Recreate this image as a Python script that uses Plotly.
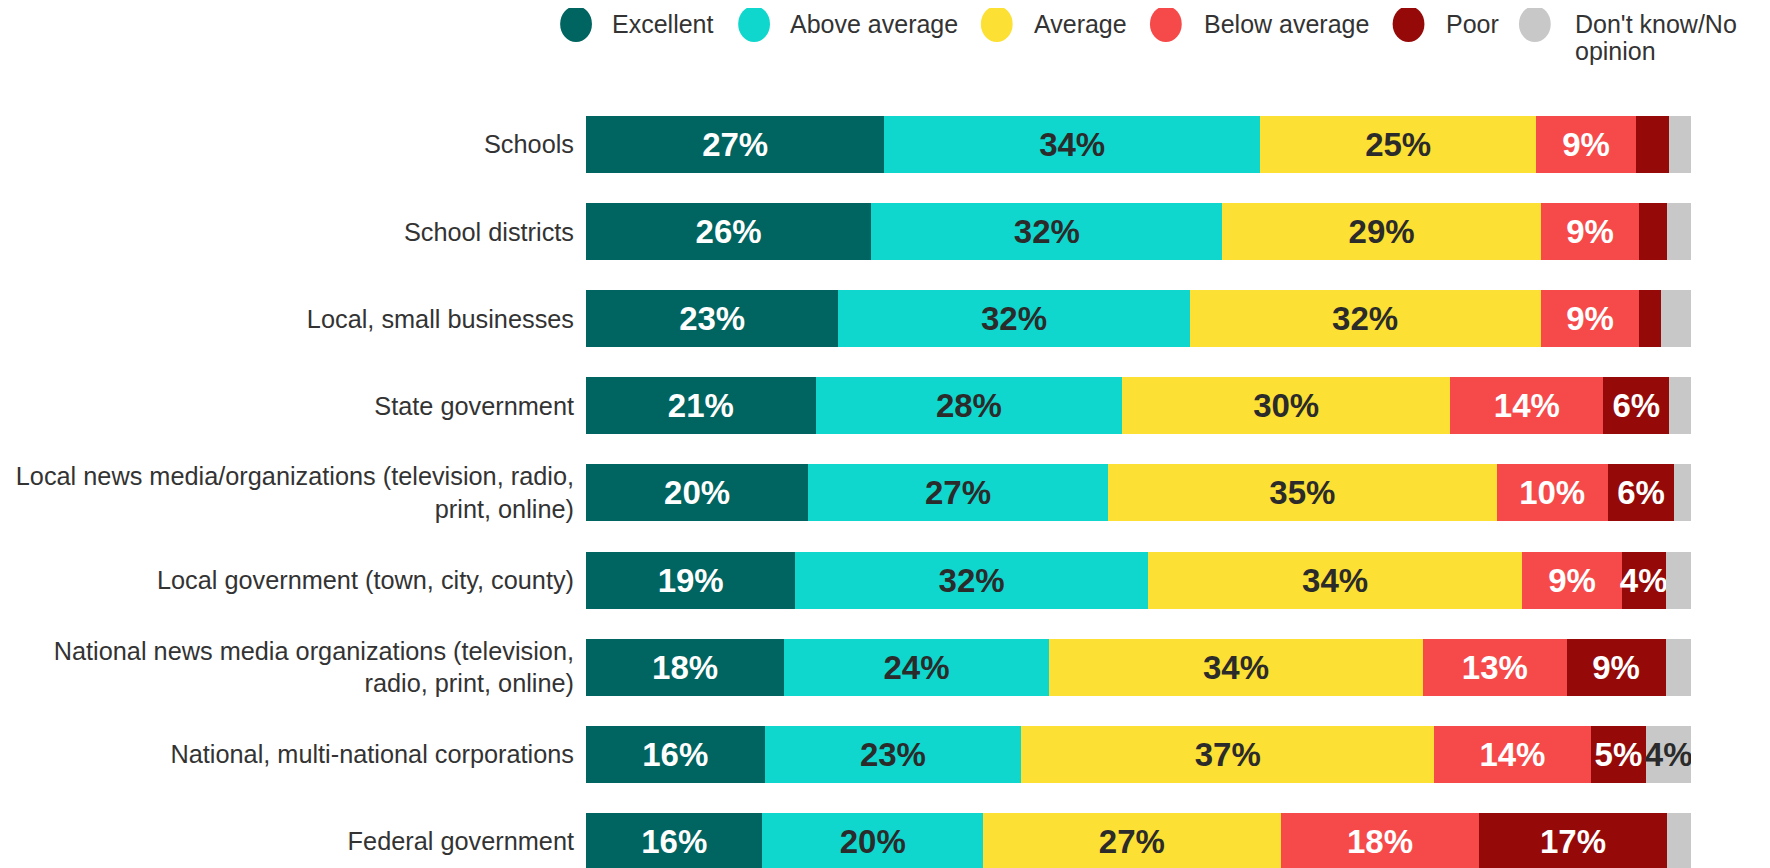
import plotly.graph_objects as go

categories = [
    "Schools",
    "School districts",
    "Local, small businesses",
    "State government",
    "Local news media/organizations (television, radio,<br>print, online)",
    "Local government (town, city, county)",
    "National news media organizations (television,<br>radio, print, online)",
    "National, multi-national corporations",
    "Federal government",
]

series_names = ["Excellent", "Above average", "Average", "Below average", "Poor", "Don't know/No opinion"]
excellent = [27, 26, 23, 21, 20, 19, 18, 16, 16]
above_average = [34, 32, 32, 28, 27, 32, 24, 23, 20]
average = [25, 29, 32, 30, 35, 34, 34, 37, 27]
below_average = [9, 9, 9, 14, 10, 9, 13, 14, 18]
poor = [3, 2.5, 2, 6, 6, 4, 9, 5, 17]
dont_know = [2, 2.2, 2.7, 2, 1.5, 2.3, 2.3, 4, 2.2]

series_values = [excellent, above_average, average, below_average, poor, dont_know]
colors = ["#006460", "#10d7cd", "#fce033", "#f64a4a", "#950a08", "#c8c8c8"]
text_colors = ["#ffffff", "#2b2b2b", "#2b2b2b", "#ffffff", "#ffffff", "#2b2b2b"]

# page body has an 8px margin, so figure coordinates are offset by 8px
W, H = 1770, 868
ML, MR, MT, MB = 572, 87, 93, 8
PW = W - ML - MR
PH = H - MT - MB

fig = go.Figure()
for name, vals, col, tcol in zip(series_names, series_values, colors, text_colors):
    labels = [f"{round(v)}%" if v >= 4 else "" for v in vals]
    fig.add_trace(go.Bar(
        y=categories, x=vals, name=name, orientation="h",
        marker=dict(color=col, line=dict(width=0)),
        text=labels, textposition="inside", insidetextanchor="middle",
        textangle=0, constraintext="none",
        textfont=dict(family="Liberation Sans, Arial, sans-serif", size=33, color=tcol, weight="bold"),
        showlegend=False,
    ))

n = len(categories)
slot_px = 87.1
lower = (n - 0.5) - PH / slot_px

fig.update_layout(
    width=W, height=H,
    margin=dict(l=ML, r=MR, t=MT, b=MB, pad=0),
    barmode="stack", barnorm="percent", bargap=0.345,
    plot_bgcolor="white", paper_bgcolor="white",
    font=dict(family="Liberation Sans, Arial, sans-serif", size=25, color="#333333"),
    xaxis=dict(visible=False, range=[0, 100], fixedrange=True),
    yaxis=dict(
        type="category", categoryorder="array", categoryarray=categories[::-1],
        range=[lower, n - 0.5], showgrid=False, zeroline=False, showline=False,
        ticks="", ticklabelstandoff=11,
        tickfont=dict(size=25.3, color="#333333"),
    ),
)

# Manual legend with large circular markers (figure pixel coordinates)
def px_to_paper_x(px):
    return (px - ML) / PW

def px_to_paper_y(py):
    return (H - MB - py) / PH

circle_cx = [562, 741, 985, 1155, 1399, 1526]
text_x = [596, 775, 1020, 1191, 1435, 1564]
cy = 16
legend_texts = ["Excellent", "Above average", "Average", "Below average", "Poor", "Don't know/No"]
for cx, tx, col, lab in zip(circle_cx, text_x, colors, legend_texts):
    fig.add_shape(
        type="circle", xref="paper", yref="paper",
        x0=px_to_paper_x(cx - 16), x1=px_to_paper_x(cx + 16),
        y0=px_to_paper_y(cy + 18), y1=px_to_paper_y(cy - 18),
        fillcolor=col, line=dict(width=0),
    )
    fig.add_annotation(
        xref="paper", yref="paper", x=px_to_paper_x(tx), y=px_to_paper_y(cy),
        text=lab, showarrow=False, xanchor="left", yanchor="middle",
        font=dict(size=25, color="#333333"),
    )
fig.add_annotation(
    xref="paper", yref="paper", x=px_to_paper_x(1564), y=px_to_paper_y(43),
    text="opinion", showarrow=False, xanchor="left", yanchor="middle",
    font=dict(size=25, color="#333333"),
)

fig.write_html("out.html")
